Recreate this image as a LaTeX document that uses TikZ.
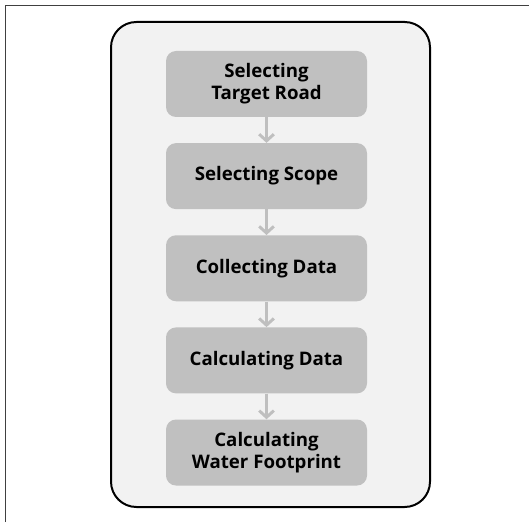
\documentclass[tikz,border=0pt]{standalone}
\usepackage{fontspec}
\setmainfont{Open Sans}
\usepackage{xcolor}
\usepackage{tikz}
\usetikzlibrary{arrows.meta, positioning}
\definecolor{panelfill}{HTML}{F2F2F2}
\definecolor{boxfill}{HTML}{C0C0C0}
\definecolor{arrowgray}{HTML}{BFBFBF}
\definecolor{framegray}{HTML}{404040}

\begin{document}
\begin{tikzpicture}[x=0.75pt, y=0.75pt,
    stagebox/.style={fill=boxfill, rounded corners=7.5pt, minimum width=150.75pt,
      minimum height=49.5pt, align=center, inner sep=0pt,
      font=\bfseries\fontsize{14}{16.5}\selectfont},
    flow/.style={arrowgray, line width=2.2pt, -{Straight Barb[length=5pt, width=11pt, line width=2.2pt]}},
    node distance=19.2pt]
  \useasboundingbox (0,0) rectangle (529,522);

  % outer frame (only left and top visible)
  \draw[framegray, line width=0.9pt] (5.5,0) -- (5.5,516.5) -- (529,516.5);

  % panel
  \draw[black, line width=1.5pt, fill=panelfill, rounded corners=19pt] (111,15) rectangle (430,500);

  % stages
  \node[stagebox] (target) at (266.5,438) {Selecting\\Target Road};
  \node[stagebox, below=of target] (scope) {Selecting Scope};
  \node[stagebox, below=of scope] (collect) {Collecting Data};
  \node[stagebox, below=of collect] (calc) {Calculating Data};
  \node[stagebox, below=of calc] (footprint) {Calculating\\Water Footprint};

  % arrows
  \draw[flow] (target) -- (scope);
  \draw[flow] (scope) -- (collect);
  \draw[flow] (collect) -- (calc);
  \draw[flow] (calc) -- (footprint);
\end{tikzpicture}
\end{document}
